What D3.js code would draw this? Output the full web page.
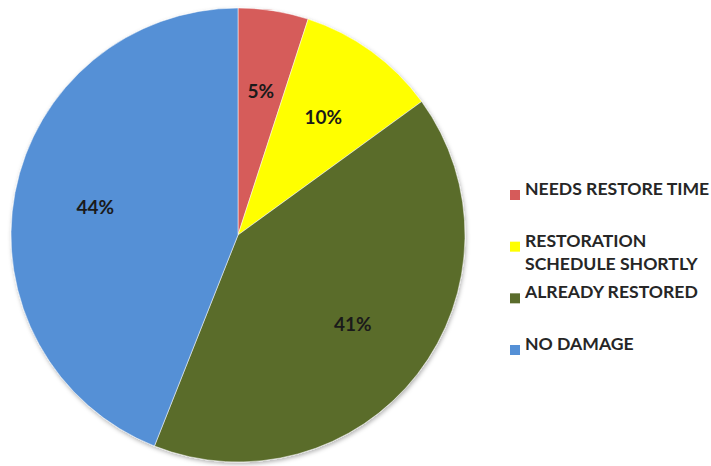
<!DOCTYPE html>
<html>
<head>
<meta charset="utf-8">
<script src="https://d3js.org/d3.v7.min.js"></script>
<style>
  body { margin: 0; background: #fff; }
  svg text { font-family: Lato, "Open Sans", sans-serif; font-weight: bold; }
</style>
</head>
<body>
<div id="chart"></div>
<script>
// data
var categories = ["NEEDS RESTORE TIME", "RESTORATION\nSCHEDULE SHORTLY", "ALREADY RESTORED", "NO DAMAGE"]
var values = [5, 10, 41, 44]
var colors = ["#d65b5a", "#ffff00", "#5a6c2c", "#5590d6"]

var width = 711
var height = 466

var svg = d3.select("#chart")
  .append("svg")
  .attr("width", width)
  .attr("height", height)

// soft shadow round the pie
var defs = svg.append("defs")
defs.append("filter")
  .attr("id", "shadow")
  .attr("x", "-10%")
  .attr("y", "-10%")
  .attr("width", "120%")
  .attr("height", "120%")
  .append("feDropShadow")
  .attr("dx", 1)
  .attr("dy", 2)
  .attr("stdDeviation", 2)
  .attr("flood-color", "#000")
  .attr("flood-opacity", 0.3)

var cx = 238
var cy = 235
var radius = 227

var pie = d3.pie()
  .sort(null)
  .value(d => d)

var arc = d3.arc()
  .innerRadius(0)
  .outerRadius(radius)

var labelArc = d3.arc()
  .innerRadius(radius * 0.64)
  .outerRadius(radius * 0.64)

var pieG = svg.append("g")
  .attr("transform", `translate(${cx},${cy})`)

var slices = pie(values)

// slices
pieG.append("g")
  .style("filter", "url(#shadow)")
  .selectAll(".slice")
  .data(slices)
  .enter()
  .append("path")
  .attr("class", "slice")
  .attr("d", arc)
  .style("fill", (d, i) => colors[i])
  .style("stroke", "#ffffff")
  .style("stroke-opacity", 0.5)
  .style("stroke-width", 1)

// percent labels
pieG.selectAll(".pct")
  .data(slices)
  .enter()
  .append("text")
  .attr("class", "pct")
  .attr("transform", d => `translate(${labelArc.centroid(d)})`)
  .attr("text-anchor", "middle")
  .attr("dy", "0.35em")
  .style("font-size", "19px")
  .style("fill", "#1a1a1a")
  .text(d => d.data + "%")

// legend
var legendY = d3.scalePoint()
  .domain(d3.range(categories.length))
  .range([195, 350])

var legend = svg.append("g")
  .attr("class", "legend")

var items = legend.selectAll(".item")
  .data(categories)
  .enter()
  .append("g")
  .attr("class", "item")
  .attr("transform", (d, i) => `translate(510,${legendY(i)})`)

items.append("rect")
  .attr("x", 0)
  .attr("y", -5)
  .attr("width", 10)
  .attr("height", 10)
  .style("fill", (d, i) => colors[i])

items.append("text")
  .attr("x", 15)
  .attr("dy", "0.36em")
  .style("font-size", "17.6px")
  .style("fill", "#262626")
  .selectAll("tspan")
  .data(d => d.split("\n"))
  .enter()
  .append("tspan")
  .attr("x", 15)
  .attr("dy", (d, i) => i == 0 ? 0 : 23.5)
  .text(d => d)
</script>
</body>
</html>
